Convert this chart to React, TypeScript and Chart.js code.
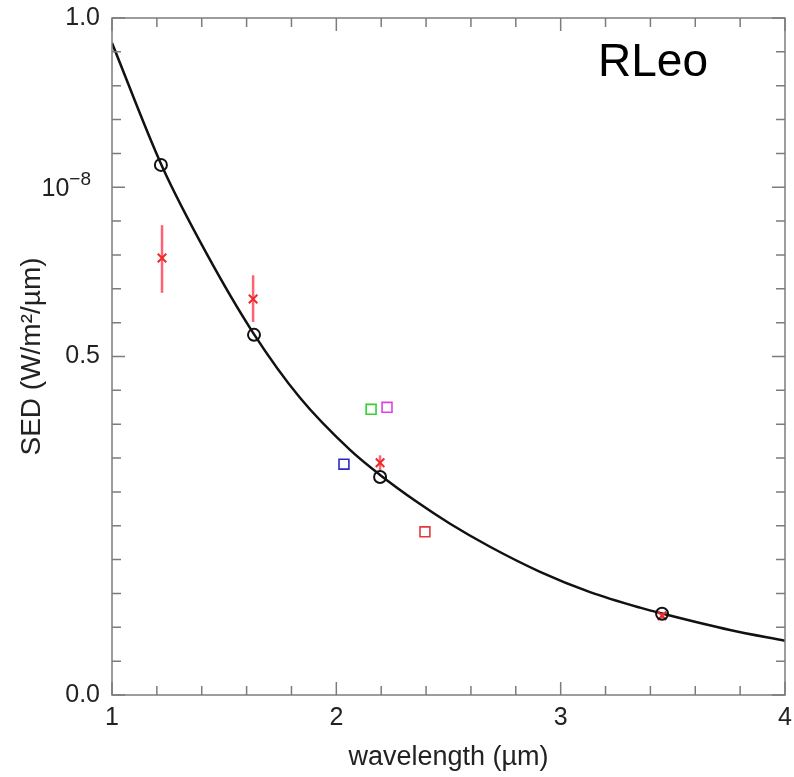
import React, { useEffect, useRef } from "react";
import { Chart, registerables } from "chart.js";

Chart.register(...registerables);

// Model SED curve
const curveX = [1.0, 1.223, 1.42, 1.629, 1.838, 2.061, 2.195, 2.36, 2.507, 2.685, 2.908, 3.131, 3.354, 3.456, 3.755, 4.0];
const curveY = [0.963, 0.781, 0.653, 0.535, 0.439, 0.362, 0.325, 0.285, 0.253, 0.219, 0.182, 0.152, 0.129, 0.12, 0.096, 0.08];

// Model photometry (black circles)
const modelX = [1.218, 1.633, 2.195, 3.452];
const modelY = [0.783, 0.532, 0.322, 0.12];

// Observed photometry (red crosses with error bars)
const obsX = [1.223, 1.629, 2.195, 3.452];
const obsY = [0.6455, 0.585, 0.343, 0.117];
const obsLo = [0.594, 0.551, 0.332, 0.113];
const obsHi = [0.694, 0.62, 0.354, 0.121];

// Other photometry (coloured squares)
const sqX = [2.034, 2.155, 2.226, 2.395];
const sqY = [0.341, 0.422, 0.425, 0.241];
const sqColors = ["#2b2bc4", "#2fd22f", "#dd44dd", "#e23a3a"];

// Axis labels
const xTickValues = [1, 2, 3, 4];
const xTickLabels = ["1", "2", "3", "4"];
const yTickValues = [0, 0.5, 0.75, 1.0];
const yTickLabels = ["0.0", "0.5", "", "1.0"];
const expTickValue = 0.75;
const expTickBase = "10";
const expTickPower = "\u22128";
const starName = "RLeo";

const FONT = "'Liberation Sans', Arial, Helvetica, sans-serif";

const zeroPadding = (s: any) => {
  s.paddingTop = 0;
  s.paddingBottom = 0;
  s.paddingLeft = 0;
  s.paddingRight = 0;
};

const framePlugin = {
  id: "idlFrame",
  afterDatasetsDraw(chart: any) {
    const { ctx, chartArea: a, scales } = chart;
    const x = scales.x;
    const y = scales.y;
    ctx.save();
    ctx.strokeStyle = "#7c7c7c";
    ctx.lineWidth = 1.5;
    ctx.beginPath();
    for (let i = 0; i <= 15; i++) {
      const v = 1 + i * 0.2;
      const px = x.getPixelForValue(v);
      const L = i % 5 === 0 ? 13 : 9;
      ctx.moveTo(px, a.bottom);
      ctx.lineTo(px, a.bottom - L);
      ctx.moveTo(px, a.top);
      ctx.lineTo(px, a.top + L);
    }
    for (let i = 0; i <= 20; i++) {
      const v = i * 0.05;
      const py = y.getPixelForValue(v);
      const major = yTickValues.some((t) => Math.abs(t - v) < 1e-6);
      const L = major ? 13 : 9;
      ctx.moveTo(a.left, py);
      ctx.lineTo(a.left + L, py);
      ctx.moveTo(a.right, py);
      ctx.lineTo(a.right - L, py);
    }
    ctx.stroke();
    ctx.strokeRect(a.left, a.top, a.right - a.left, a.bottom - a.top);

    // exponent tick label 10^-8
    const ey = y.getPixelForValue(expTickValue);
    ctx.fillStyle = "#222";
    ctx.textBaseline = "alphabetic";
    ctx.textAlign = "right";
    ctx.font = `19px ${FONT}`;
    const pw = ctx.measureText(expTickPower).width;
    ctx.fillText(expTickPower, a.left - 21, ey - 2);
    ctx.font = `25px ${FONT}`;
    ctx.fillText(expTickBase, a.left - 21 - pw, ey + 9);

    ctx.fillStyle = "#000";
    ctx.font = `46px ${FONT}`;
    ctx.textAlign = "left";
    ctx.fillText(starName, a.right - 187, a.top + 58);
    ctx.restore();
  },
};

export default function App() {
  const ref = useRef<HTMLCanvasElement | null>(null);

  useEffect(() => {
    document.body.style.margin = "0";
    const canvas = ref.current;
    if (!canvas) return;

    const errorSets = obsX.map((xv, i) => ({
      type: "line" as const,
      data: [
        { x: xv, y: obsLo[i] },
        { x: xv, y: obsHi[i] },
      ],
      borderColor: "rgba(255, 70, 90, 0.85)",
      borderWidth: 2.5,
      pointRadius: 0,
      showLine: true,
      order: 3,
    }));

    const chart = new Chart(canvas, {
      type: "scatter",
      data: {
        datasets: [
          {
            type: "line",
            label: "model",
            data: curveX.map((xv, i) => ({ x: xv, y: curveY[i] })),
            borderColor: "#111",
            borderWidth: 2.5,
            pointRadius: 0,
            cubicInterpolationMode: "monotone",
            showLine: true,
            order: 5,
          } as any,
          ...errorSets,
          {
            label: "squares",
            data: sqX.map((xv, i) => ({ x: xv, y: sqY[i] })),
            pointStyle: "rect",
            pointRadius: 7,
            pointBorderWidth: 1.6,
            pointBorderColor: sqColors,
            pointBackgroundColor: "rgba(0,0,0,0)",
            order: 2,
          } as any,
          {
            label: "observed",
            data: obsX.map((xv, i) => ({ x: xv, y: obsY[i] })),
            pointStyle: "crossRot",
            pointRadius: 6,
            pointBorderWidth: 2,
            pointBorderColor: "#ee2a2a",
            order: 1,
          } as any,
          {
            label: "model phot",
            data: modelX.map((xv, i) => ({ x: xv, y: modelY[i] })),
            pointStyle: "circle",
            pointRadius: 6,
            pointBorderWidth: 2,
            pointBorderColor: "#111",
            pointBackgroundColor: "rgba(0,0,0,0)",
            order: 0,
          } as any,
        ],
      },
      options: {
        responsive: false,
        animation: false,
        events: [],
        layout: { padding: { top: 18, right: 9, left: 0, bottom: 0 } },
        plugins: {
          legend: { display: false },
          tooltip: { enabled: false },
          title: { display: false },
        },
        scales: {
          x: {
            type: "linear",
            min: 1,
            max: 4,
            afterBuildTicks: (s: any) => {
              s.ticks = xTickValues.map((v) => ({ value: v }));
            },
            afterFit: (s: any) => {
              s.height = 82;
              zeroPadding(s);
            },
            ticks: {
              autoSkip: false,
              maxRotation: 0,
              padding: 8,
              color: "#222",
              font: { family: FONT, size: 25 },
              callback: (v: any) => {
                const idx = xTickValues.findIndex((t) => Math.abs(t - Number(v)) < 1e-6);
                return idx >= 0 ? xTickLabels[idx] : "";
              },
            },
            grid: { display: false, drawTicks: false },
            border: { display: false },
            title: {
              display: true,
              text: "wavelength (\u00B5m)",
              color: "#222",
              font: { family: FONT, size: 27 },
              padding: { top: 0, bottom: 3 },
            },
          },
          y: {
            type: "linear",
            min: 0,
            max: 1,
            afterBuildTicks: (s: any) => {
              s.ticks = yTickValues.map((v) => ({ value: v }));
            },
            afterFit: (s: any) => {
              s.width = 112;
              zeroPadding(s);
            },
            ticks: {
              autoSkip: false,
              padding: 12,
              color: "#222",
              font: { family: FONT, size: 25 },
              callback: (v: any) => {
                const idx = yTickValues.findIndex((t) => Math.abs(t - Number(v)) < 1e-6);
                return idx >= 0 ? yTickLabels[idx] : "";
              },
            },
            grid: { display: false, drawTicks: false },
            border: { display: false },
            title: {
              display: true,
              text: "SED (W/m\u00B2/\u00B5m)",
              color: "#222",
              font: { family: FONT, size: 28 },
              padding: { top: 15, bottom: 0 },
            },
          },
        },
      } as any,
      plugins: [framePlugin],
    });

    return () => chart.destroy();
  }, []);

  return (
    <div style={{ position: "absolute", left: 0, top: 0, width: 794, height: 777, background: "#fff" }}>
      <canvas ref={ref} width={794} height={777} style={{ display: "block", width: 794, height: 777 }} />
    </div>
  );
}
